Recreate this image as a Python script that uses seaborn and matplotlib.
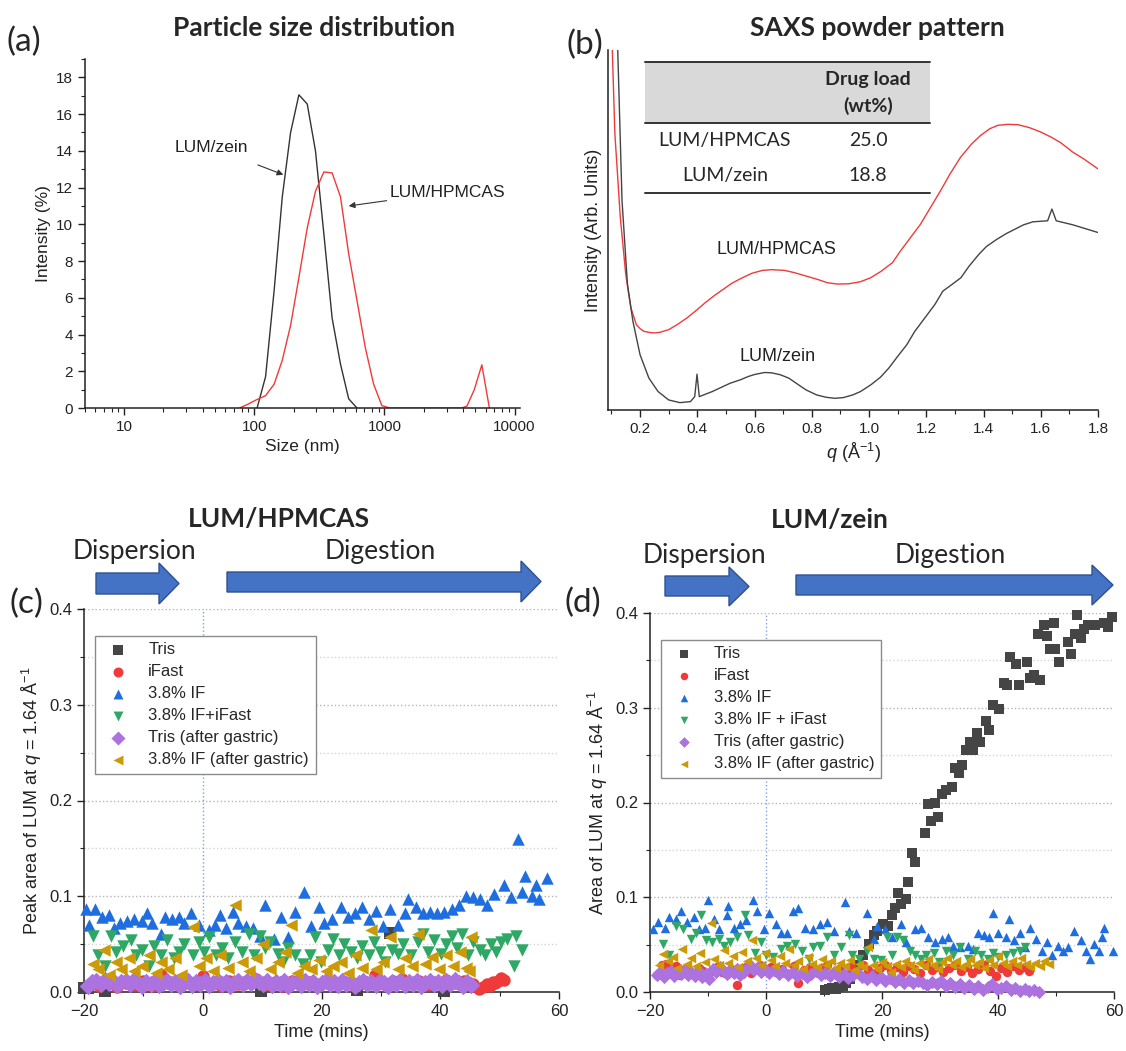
import numpy as np
import pandas as pd
import matplotlib
matplotlib.use("Agg")
import matplotlib.pyplot as plt
from matplotlib.patches import Polygon, Rectangle
from matplotlib.lines import Line2D
from matplotlib.ticker import MultipleLocator, FormatStrFormatter
import seaborn as sns

sns.set_style("ticks")
plt.rcParams['font.family'] = ['Liberation Sans', 'DejaVu Sans']
plt.rcParams['mathtext.fontset'] = 'custom'
plt.rcParams['mathtext.rm'] = 'Liberation Sans'
plt.rcParams['mathtext.it'] = 'Liberation Sans:italic'

TITLE_FONT = ['Lato', 'DejaVu Sans']

### (a) particle size distribution (DLS)
size_zein = [105, 122, 142, 164, 190, 220, 255, 295, 342, 396, 459, 531, 615]
int_zein = [0, 1.7, 6.4, 11.5, 15.0, 17.05, 16.55, 14.0, 9.5, 4.9, 2.4, 0.5, 0]
size_hpmcas = [77, 89, 104, 122, 142, 164, 190, 220, 255, 295, 342, 396, 459, 531,
               615, 712, 825, 955, 1100, 3900, 4300, 4900, 5600, 6400]
int_hpmcas = [0, 0.2, 0.45, 0.67, 1.3, 2.6, 4.5, 7.1, 9.8, 11.8, 12.85, 12.8, 11.5, 8.4,
              5.85, 3.3, 1.3, 0.13, 0, 0, 0.1, 1.0, 2.35, 0]

### (b) SAXS powder pattern (arb. units)
q_hpmcas = [0.095, 0.112, 0.131, 0.150, 0.168, 0.187, 0.20, 0.213, 0.23, 0.25, 0.27, 0.30, 0.33,
            0.364, 0.40, 0.427, 0.46, 0.49, 0.52, 0.553, 0.59, 0.628, 0.66, 0.704, 0.74, 0.78,
            0.82, 0.855, 0.89, 0.93, 0.97, 1.006, 1.04, 1.082, 1.11, 1.145, 1.18, 1.208, 1.25,
            1.283, 1.32, 1.359, 1.39, 1.422, 1.45, 1.485, 1.52, 1.561, 1.60, 1.636, 1.67, 1.712,
            1.75, 1.8]
saxs_hpmcas = [130, 82.5, 57.5, 40.5, 30.5, 25.5, 24.3, 23.5, 23.2, 23, 23.2, 24, 25.5, 27.5,
               30, 32, 34.2, 36, 37.8, 39.3, 40.8, 41.7, 41.9, 41.7, 41, 40, 39, 38, 37.6,
               37.7, 38.3, 39.5, 41.3, 44, 47.5, 51.5, 55.5, 59.5, 65.5, 70.5, 75.5, 79.5, 82,
               84, 85, 85.3, 85.2, 84.3, 83, 81.5, 79.8, 77, 75, 72]
q_zein = [0.115, 0.122, 0.137, 0.156, 0.175, 0.2, 0.231, 0.263, 0.30, 0.339, 0.376, 0.391, 0.399,
          0.407, 0.452, 0.515, 0.55, 0.578, 0.60, 0.635, 0.66, 0.691, 0.72, 0.754, 0.78, 0.817,
          0.85, 0.88, 0.91, 0.943, 0.97, 1.006, 1.04, 1.069, 1.10, 1.132, 1.16, 1.195, 1.23,
          1.258, 1.29, 1.321, 1.35, 1.384, 1.41, 1.447, 1.48, 1.51, 1.54, 1.573, 1.624, 1.639,
          1.654, 1.712, 1.8]
saxs_zein = [150, 107.5, 62.5, 37.5, 26.5, 16.5, 9.5, 5.5, 3, 2.2, 2.5, 4, 10.7, 4, 5.5, 8, 9,
             10, 10.6, 11.2, 11.1, 10.5, 9.5, 7.5, 6, 4.5, 3.8, 3.5, 3.7, 4.5, 5.5, 7.5, 9.8,
             12.5, 16, 19.5, 23.5, 27.5, 31.5, 35.5, 37.5, 39.5, 43, 46.5, 48.8, 51, 52.7, 54,
             55.3, 56.2, 56.5, 60, 56.5, 55.3, 53]
table_rows = ['LUM/HPMCAS', 'LUM/zein']
table_load = ['25.0', '18.8']

### (c),(d) peak area of LUM vs time: (time in mins, area)
series_names_c = ['Tris', 'iFast', '3.8% IF', '3.8% IF+iFast', 'Tris (after gastric)', '3.8% IF (after gastric)']
series_names_d = ['Tris', 'iFast', '3.8% IF', '3.8% IF + iFast', 'Tris (after gastric)', '3.8% IF (after gastric)']
series_markers = ['s', 'o', '^', 'v', 'D', '<']
series_colors = ['#454545', '#f03a3a', '#1f6ee0', '#2fa865', '#ab72e0', '#cc9a06']

c_tris = [(-20.0, 0.004), (-19.4, 0.004), (-16.5, 0.001), (9.8, 0.001), (26.0, 0.002),
          (31.6, 0.062), (40.7, 0.001)]
c_ifast = [(-19, 0.008), (-17.5, 0.006), (-16, 0.010), (-14.5, 0.005), (-13, 0.009), (-11.5, 0.007),
           (-10, 0.011), (-8.5, 0.006), (-7, 0.018), (-5.5, 0.009), (-4, 0.007), (-2.5, 0.010),
           (-1, 0.008), (0, 0.017), (1.5, 0.009), (3, 0.006), (4.5, 0.011), (6, 0.008), (7.5, 0.010),
           (9, 0.014), (10.5, 0.007), (12, 0.009), (13.5, 0.006), (15, 0.011), (16.5, 0.008),
           (18, 0.010), (19.5, 0.007), (21, 0.012), (22.5, 0.008), (24, 0.010), (25.5, 0.006),
           (27, 0.009), (29, 0.018), (30.5, 0.008), (32, 0.011), (33.5, 0.014), (35, 0.009),
           (36.5, 0.012), (38, 0.007), (39.5, 0.010), (41, 0.013), (42.5, 0.009), (44, 0.011),
           (45.5, 0.008), (46.5, 0.003), (47.2, 0.005), (47.8, 0.008), (48.3, 0.006), (48.8, 0.010),
           (49.3, 0.009), (49.8, 0.012), (50.3, 0.015), (50.7, 0.013)]
c_if = [(-19.7, 0.087), (-19.1, 0.070), (-18.2, 0.087), (-17.0, 0.078), (-15.8, 0.080),
        (-14.9, 0.067), (-14.0, 0.072), (-12.8, 0.074), (-11.5, 0.076), (-10.3, 0.074),
        (-9.4, 0.082), (-8.5, 0.072), (-7.0, 0.061), (-6.4, 0.078), (-5.2, 0.076),
        (-4.0, 0.078), (-3.1, 0.072), (-1.9, 0.082), (-0.7, 0.070), (1.1, 0.065),
        (2.0, 0.070), (2.9, 0.080), (3.9, 0.067), (5.1, 0.084), (6.0, 0.072),
        (7.2, 0.069), (8.4, 0.067), (9.6, 0.059), (10.5, 0.091), (12.0, 0.055),
        (13.2, 0.078), (14.4, 0.057), (15.6, 0.084), (17.1, 0.104), (18.3, 0.069),
        (19.6, 0.089), (20.5, 0.072), (21.7, 0.076), (23.2, 0.089), (24.4, 0.078),
        (25.6, 0.082), (26.8, 0.089), (28.0, 0.076), (29.2, 0.085), (30.4, 0.069),
        (31.6, 0.087), (32.8, 0.070), (34.0, 0.082), (34.6, 0.097), (35.9, 0.089),
        (37.1, 0.082), (38.3, 0.084), (39.5, 0.082), (40.7, 0.084), (41.9, 0.087),
        (43.1, 0.091), (44.3, 0.100), (45.5, 0.099), (46.7, 0.097), (47.9, 0.091),
        (49.1, 0.102), (50.7, 0.112), (51.9, 0.099), (53.1, 0.160), (53.7, 0.104),
        (54.3, 0.121), (55.5, 0.100), (56.1, 0.112), (56.7, 0.097), (57.9, 0.119)]
c_if_ifast = [(-18.5, 0.059), (-17.6, 0.039), (-16.4, 0.027), (-15.5, 0.059), (-14.6, 0.042),
              (-13.4, 0.048), (-12.1, 0.054), (-11.2, 0.039), (-10.3, 0.044), (-9.1, 0.027),
              (-8.2, 0.048), (-7.0, 0.039), (-6.1, 0.054), (-4.9, 0.035), (-4.0, 0.042),
              (-3.1, 0.050), (-1.6, 0.039), (-0.7, 0.052), (0.2, 0.042), (1.1, 0.057),
              (2.3, 0.039), (3.2, 0.046), (4.2, 0.035), (5.4, 0.052), (6.6, 0.042),
              (7.8, 0.061), (8.7, 0.039), (9.6, 0.059), (10.5, 0.046), (11.4, 0.052),
              (12.6, 0.040), (13.5, 0.031), (14.4, 0.046), (15.6, 0.039), (16.8, 0.029),
              (18.0, 0.039), (18.9, 0.057), (19.9, 0.031), (21.1, 0.044), (22.0, 0.055),
              (22.9, 0.039), (23.8, 0.050), (25.0, 0.042), (25.9, 0.035), (26.8, 0.048),
              (28.0, 0.039), (28.9, 0.052), (29.8, 0.042), (30.7, 0.031), (31.9, 0.044),
              (32.8, 0.040), (33.7, 0.050), (35.0, 0.039), (36.2, 0.052), (37.1, 0.061),
              (38.0, 0.042), (38.9, 0.054), (40.1, 0.040), (41.0, 0.050), (41.9, 0.059),
              (42.8, 0.046), (43.7, 0.061), (44.6, 0.039), (45.5, 0.052), (46.7, 0.044),
              (47.6, 0.039), (48.5, 0.050), (49.4, 0.042), (50.3, 0.052), (51.3, 0.055),
              (52.5, 0.027), (52.8, 0.059), (53.7, 0.044)]
c_tris_gastric = [(-19.3, 0.006), (-18.6, 0.010), (-17.9, 0.012), (-17.2, 0.008), (-16.5, 0.013),
                  (-15.8, 0.009), (-15.1, 0.011), (-14.4, 0.007), (-13.7, 0.010), (-13.0, 0.012),
                  (-12.3, 0.008), (-11.6, 0.013), (-10.9, 0.009), (-10.2, 0.006), (-9.5, 0.010),
                  (-8.8, 0.008), (-8.1, 0.011), (-7.4, 0.007), (-6.7, 0.009), (-6.0, 0.012),
                  (-5.3, 0.008), (-4.6, 0.010), (-3.9, 0.006), (-3.2, 0.009), (-2.5, 0.011),
                  (-1.8, 0.007), (-1.1, 0.010), (-0.4, 0.008), (0.4, 0.011), (1.1, 0.007),
                  (1.8, 0.009), (2.5, 0.012), (3.2, 0.008), (3.9, 0.010), (4.6, 0.006),
                  (5.3, 0.009), (6.0, 0.011), (6.7, 0.008), (7.4, 0.012), (8.1, 0.009),
                  (8.8, 0.013), (9.5, 0.010), (10.2, 0.008), (10.9, 0.011), (11.6, 0.007),
                  (12.3, 0.010), (13.0, 0.008), (13.7, 0.011), (14.4, 0.006), (15.1, 0.009),
                  (15.8, 0.010), (16.5, 0.007), (17.2, 0.011), (17.9, 0.008), (18.6, 0.010),
                  (19.3, 0.006), (20.0, 0.009), (20.7, 0.011), (21.4, 0.008), (22.1, 0.010),
                  (22.8, 0.007), (23.5, 0.011), (24.2, 0.008), (24.9, 0.010), (25.6, 0.006),
                  (26.3, 0.009), (27.0, 0.012), (27.7, 0.008), (28.4, 0.010), (29.1, 0.007),
                  (29.8, 0.011), (30.5, 0.009), (31.2, 0.006), (31.9, 0.010), (32.6, 0.008),
                  (33.3, 0.011), (34.0, 0.007), (34.7, 0.010), (35.4, 0.008), (36.1, 0.011),
                  (36.8, 0.006), (37.5, 0.009), (38.2, 0.012), (38.9, 0.008), (39.6, 0.010),
                  (40.3, 0.007), (41.0, 0.011), (41.7, 0.008), (42.4, 0.013), (43.1, 0.009),
                  (43.8, 0.006), (44.5, 0.010), (45.2, 0.007)]
c_if_gastric = [(-18.5, 0.029), (-17.6, 0.024), (-16.7, 0.044), (-15.8, 0.018), (-14.6, 0.031),
                (-13.7, 0.024), (-12.5, 0.035), (-11.5, 0.022), (-10.3, 0.027), (-9.1, 0.039),
                (-7.9, 0.020), (-7.0, 0.031), (-5.8, 0.024), (-4.6, 0.035), (-3.7, 0.018),
                (-1.6, 0.068), (-0.7, 0.027), (0.5, 0.035), (1.7, 0.022), (2.9, 0.039),
                (4.2, 0.025), (5.5, 0.091), (6.6, 0.031), (7.8, 0.022), (9.0, 0.035),
                (10.2, 0.050), (11.4, 0.024), (12.6, 0.031), (13.8, 0.042), (14.9, 0.070),
                (15.9, 0.020), (17.1, 0.027), (18.3, 0.024), (19.6, 0.033), (20.8, 0.022),
                (22.0, 0.027), (23.2, 0.031), (24.4, 0.020), (25.6, 0.039), (26.8, 0.025),
                (28.3, 0.065), (29.2, 0.024), (30.4, 0.031), (31.6, 0.057), (32.8, 0.024),
                (34.0, 0.035), (35.3, 0.027), (36.2, 0.061), (37.4, 0.029), (38.6, 0.037),
                (39.8, 0.024), (41.0, 0.039), (42.2, 0.027), (43.4, 0.042), (44.3, 0.025),
                (44.9, 0.022), (45.2, 0.057)]

d_tris = [(10.2, 0.002), (10.8, 0.003), (11.4, 0.004), (12.0, 0.003), (12.6, 0.005), (13.2, 0.006),
          (13.8, 0.009), (14.5, 0.014), (15.2, 0.021), (15.9, 0.029), (16.7, 0.039), (17.7, 0.051),
          (18.6, 0.060), (19.2, 0.064), (20.2, 0.072), (21.1, 0.070), (21.7, 0.081), (22.3, 0.089),
          (22.8, 0.104), (23.3, 0.093), (24.1, 0.098), (24.5, 0.116), (25.1, 0.147), (25.7, 0.137),
          (27.4, 0.168), (28.0, 0.198), (28.5, 0.180), (29.2, 0.199), (29.7, 0.185), (30.4, 0.209),
          (31.0, 0.213), (32.0, 0.216), (32.6, 0.236), (33.2, 0.231), (33.8, 0.240), (34.4, 0.255),
          (35.1, 0.264), (35.7, 0.255), (36.3, 0.273), (36.9, 0.264), (37.9, 0.286), (38.5, 0.277),
          (39.1, 0.303), (40.2, 0.299), (41.0, 0.326), (41.6, 0.324), (42.1, 0.354), (43.1, 0.346),
          (43.7, 0.324), (45.0, 0.348), (45.6, 0.331), (46.2, 0.335), (46.9, 0.378), (47.2, 0.329),
          (47.9, 0.387), (48.4, 0.376), (49.0, 0.362), (49.6, 0.389), (49.9, 0.362), (50.6, 0.348),
          (52.0, 0.369), (52.6, 0.357), (53.2, 0.378), (53.7, 0.398), (54.3, 0.374), (54.9, 0.383),
          (55.5, 0.387), (56.8, 0.387), (58.3, 0.389), (58.9, 0.385), (59.6, 0.396)]
d_ifast = [(-18.8, 0.018), (-18.0, 0.029), (-17.2, 0.030), (-16.4, 0.022), (-15.6, 0.027),
           (-14.8, 0.018), (-14.0, 0.024), (-13.2, 0.021), (-12.4, 0.019), (-11.6, 0.025),
           (-10.8, 0.022), (-10.0, 0.017), (-9.2, 0.023), (-8.4, 0.026), (-7.6, 0.021),
           (-6.8, 0.019), (-6.0, 0.024), (-5.0, 0.007), (-4.2, 0.022), (-3.4, 0.026),
           (-2.6, 0.020), (-1.8, 0.024), (-1.0, 0.028), (-0.2, 0.022), (0.8, 0.026),
           (1.8, 0.021), (2.8, 0.024), (3.8, 0.019), (4.8, 0.027), (5.6, 0.009),
           (6.6, 0.023), (7.6, 0.026), (8.6, 0.021), (9.6, 0.025), (10.6, 0.028),
           (11.6, 0.020), (12.6, 0.024), (13.6, 0.019), (14.6, 0.026), (15.6, 0.022),
           (16.7, 0.028), (17.6, 0.023), (18.6, 0.020), (19.6, 0.025), (20.6, 0.029),
           (21.6, 0.022), (22.6, 0.026), (23.6, 0.021), (24.6, 0.027), (25.6, 0.024),
           (26.6, 0.020), (27.6, 0.028), (28.6, 0.023), (29.6, 0.026), (30.6, 0.021),
           (31.6, 0.025), (32.6, 0.029), (33.6, 0.022), (34.6, 0.026), (35.6, 0.020),
           (36.6, 0.024), (37.6, 0.028), (38.6, 0.022), (39.6, 0.017), (40.6, 0.025),
           (41.6, 0.021), (42.6, 0.027), (43.6, 0.023), (44.6, 0.026), (45.4, 0.022)]
d_if = [(-19.4, 0.066), (-18.6, 0.074), (-17.4, 0.068), (-16.8, 0.079), (-15.5, 0.077),
        (-14.6, 0.085), (-13.7, 0.074), (-12.4, 0.079), (-11.5, 0.066), (-10.6, 0.068),
        (-10.0, 0.097), (-9.0, 0.077), (-8.1, 0.066), (-6.8, 0.081), (-6.5, 0.091),
        (-5.6, 0.068), (-4.4, 0.072), (-3.4, 0.076), (-2.2, 0.097), (-1.6, 0.085),
        (-0.3, 0.066), (0.6, 0.083), (1.8, 0.072), (2.5, 0.062), (3.7, 0.062),
        (4.6, 0.085), (5.6, 0.089), (6.8, 0.068), (8.1, 0.066), (9.3, 0.072),
        (10.5, 0.074), (11.8, 0.064), (13.6, 0.095), (14.3, 0.064), (15.5, 0.062),
        (17.4, 0.083), (18.6, 0.056), (19.2, 0.070), (20.5, 0.066), (21.7, 0.058),
        (23.3, 0.072), (24.2, 0.053), (25.7, 0.066), (26.7, 0.068), (28.0, 0.058),
        (29.2, 0.053), (30.4, 0.056), (31.3, 0.058), (32.3, 0.049), (33.5, 0.047),
        (34.8, 0.049), (35.7, 0.045), (36.6, 0.062), (37.5, 0.060), (38.5, 0.058),
        (39.1, 0.083), (40.0, 0.062), (41.3, 0.058), (41.9, 0.077), (42.8, 0.055),
        (43.8, 0.062), (44.7, 0.047), (45.6, 0.068), (46.5, 0.056), (47.5, 0.043),
        (48.4, 0.053), (49.3, 0.039), (50.3, 0.049), (51.2, 0.043), (52.1, 0.047),
        (53.1, 0.064), (54.3, 0.055), (55.2, 0.043), (55.9, 0.035), (56.5, 0.051),
        (57.4, 0.043), (58.0, 0.058), (58.3, 0.068), (59.9, 0.043)]
d_if_ifast = [(-17.8, 0.051), (-16.8, 0.039), (-15.5, 0.070), (-14.3, 0.066), (-13.0, 0.056),
              (-12.1, 0.062), (-11.2, 0.081), (-10.3, 0.055), (-9.3, 0.053), (-8.1, 0.056),
              (-7.2, 0.049), (-6.2, 0.053), (-5.0, 0.058), (-3.7, 0.081), (-3.1, 0.060),
              (-1.9, 0.041), (-0.9, 0.053), (0.0, 0.039), (1.2, 0.037), (2.5, 0.045),
              (3.7, 0.049), (5.0, 0.051), (6.2, 0.043), (7.4, 0.035), (8.1, 0.047),
              (9.3, 0.049), (10.5, 0.058), (11.8, 0.039), (13.0, 0.047), (14.3, 0.060),
              (14.9, 0.039), (16.1, 0.035), (17.4, 0.043), (18.6, 0.035), (19.9, 0.034),
              (20.8, 0.058), (21.7, 0.039), (22.6, 0.058), (23.6, 0.055), (24.8, 0.043),
              (25.7, 0.039), (26.7, 0.035), (27.6, 0.039), (28.9, 0.041), (29.8, 0.032),
              (31.0, 0.043), (32.3, 0.039), (33.5, 0.047), (34.8, 0.035), (36.0, 0.043),
              (37.0, 0.039), (38.2, 0.035), (39.1, 0.041), (40.0, 0.037), (41.3, 0.039),
              (42.5, 0.041), (43.8, 0.043), (44.7, 0.047)]
d_tris_gastric = [(-18.8, 0.018), (-18.2, 0.021), (-17.6, 0.016), (-17.0, 0.020), (-16.4, 0.022),
                  (-15.8, 0.017), (-15.2, 0.021), (-14.6, 0.019), (-14.0, 0.023), (-13.4, 0.018),
                  (-12.8, 0.020), (-12.2, 0.017), (-11.6, 0.022), (-11.0, 0.016), (-10.4, 0.019),
                  (-9.8, 0.014), (-9.2, 0.024), (-8.6, 0.021), (-8.0, 0.026), (-7.4, 0.022),
                  (-6.8, 0.019), (-6.2, 0.023), (-5.6, 0.020), (-5.0, 0.024), (-4.4, 0.018),
                  (-3.8, 0.021), (-3.2, 0.025), (-2.6, 0.027), (-2.0, 0.023), (-1.4, 0.026),
                  (-0.8, 0.021), (-0.2, 0.024), (0.6, 0.020), (1.4, 0.023), (2.2, 0.019),
                  (3.0, 0.022), (3.8, 0.018), (4.6, 0.021), (5.4, 0.017), (6.2, 0.020),
                  (7.0, 0.016), (7.8, 0.019), (8.6, 0.022), (9.4, 0.018), (10.2, 0.020),
                  (11.0, 0.017), (11.8, 0.021), (12.6, 0.016), (13.4, 0.019), (14.2, 0.015),
                  (15.0, 0.018), (15.8, 0.020), (16.6, 0.016), (17.4, 0.014), (18.2, 0.017),
                  (19.0, 0.013), (19.8, 0.016), (20.6, 0.012), (21.4, 0.015), (22.2, 0.011),
                  (23.0, 0.014), (23.8, 0.010), (24.6, 0.013), (25.4, 0.009), (26.2, 0.012),
                  (27.0, 0.010), (27.8, 0.007), (28.6, 0.011), (29.4, 0.008), (30.2, 0.012),
                  (31.0, 0.006), (31.8, 0.009), (32.6, 0.005), (33.4, 0.008), (34.2, 0.004),
                  (35.0, 0.007), (35.8, 0.003), (36.6, 0.006), (37.4, 0.002), (38.2, 0.005),
                  (39.0, 0.008), (39.8, 0.003), (40.6, 0.004), (41.4, 0.006), (42.2, 0.002),
                  (43.0, 0.004), (43.8, 0.001), (44.6, 0.003), (45.4, 0.001), (46.2, 0.002),
                  (47.0, 0.000)]
d_if_gastric = [(-18.5, 0.028), (-17.7, 0.040), (-16.9, 0.033), (-16.1, 0.037), (-15.3, 0.025),
                (-14.5, 0.045), (-13.7, 0.030), (-12.9, 0.036), (-12.1, 0.027), (-11.3, 0.041),
                (-10.5, 0.032), (-9.5, 0.073), (-8.9, 0.035), (-8.1, 0.029), (-7.3, 0.044),
                (-6.5, 0.031), (-5.7, 0.038), (-4.9, 0.026), (-4.1, 0.042), (-3.3, 0.033),
                (-2.5, 0.055), (-1.7, 0.036), (-0.9, 0.029), (-0.1, 0.041), (0.8, 0.034),
                (1.6, 0.027), (2.4, 0.038), (3.2, 0.031), (4.0, 0.045), (4.8, 0.028),
                (5.6, 0.033), (6.4, 0.024), (7.2, 0.037), (8.0, 0.030), (8.8, 0.026),
                (9.6, 0.035), (10.4, 0.029), (11.2, 0.033), (12.0, 0.025), (12.8, 0.031),
                (13.6, 0.027), (14.4, 0.034), (15.2, 0.023), (16.0, 0.030), (16.8, 0.026),
                (17.6, 0.048), (18.4, 0.029), (19.2, 0.024), (20.0, 0.032), (20.8, 0.027),
                (21.6, 0.021), (22.4, 0.030), (23.2, 0.026), (24.0, 0.033), (24.8, 0.028),
                (25.6, 0.023), (26.4, 0.031), (27.2, 0.027), (28.0, 0.035), (28.8, 0.029),
                (29.6, 0.024), (30.4, 0.032), (31.2, 0.036), (32.0, 0.028), (32.8, 0.033),
                (33.6, 0.026), (34.4, 0.030), (35.2, 0.035), (36.0, 0.028), (36.8, 0.032),
                (37.6, 0.025), (38.4, 0.034), (39.2, 0.029), (40.0, 0.038), (40.8, 0.031),
                (41.6, 0.027), (42.4, 0.033), (43.2, 0.029), (44.0, 0.036), (44.8, 0.030),
                (45.6, 0.026), (46.4, 0.031), (47.2, 0.027), (48.0, 0.033), (48.8, 0.030)]

series_c = [c_tris, c_ifast, c_if, c_if_ifast, c_tris_gastric, c_if_gastric]
series_d = [d_tris, d_ifast, d_if, d_if_ifast, d_tris_gastric, d_if_gastric]

W, H = 1126, 1051
fig = plt.figure(figsize=(W / 100, H / 100), dpi=100)


def px_rect(x0, y0, x1, y1):
    # axes rectangle from pixel box (top-left origin)
    return [x0 / W, 1 - y1 / H, (x1 - x0) / W, (y1 - y0) / H]


def fig_text(x, y, s, **kw):
    fig.text(x / W, 1 - y / H, s, ha='center', va='center', **kw)


def style_axes(ax, labelsize):
    sns.despine(ax=ax)
    for sp in ['left', 'bottom']:
        ax.spines[sp].set_color('#222222')
        ax.spines[sp].set_linewidth(1.1)
    ax.tick_params(which='major', direction='out', length=5, width=1, color='#222222',
                   labelsize=labelsize, labelcolor='#222222')
    ax.tick_params(which='minor', direction='out', length=3, width=0.8, color='#222222')


def block_arrow(x0, x_head, x_tip, y_body0, y_body1, y_head0, y_head1):
    ymid = (y_head0 + y_head1) / 2
    pts = [(x0, y_body0), (x_head, y_body0), (x_head, y_head0), (x_tip, ymid),
           (x_head, y_head1), (x_head, y_body1), (x0, y_body1)]
    pts = [(x / 100, (H - y) / 100) for x, y in pts]
    fig.patches.append(Polygon(pts, closed=True, transform=fig.dpi_scale_trans,
                               facecolor='#4472C4', edgecolor='#2F528F', lw=1))


### (a)
ax_a = fig.add_axes(px_rect(85, 59, 520, 408))
ax_a.set_xscale('log')
sns.lineplot(x=size_zein, y=int_zein, color='#333333', lw=1, ax=ax_a)
sns.lineplot(x=size_hpmcas, y=int_hpmcas, color='#f03a3a', lw=1, ax=ax_a)
ax_a.set_xlim(5, 11000)
ax_a.set_ylim(0, 19)
ax_a.yaxis.set_major_locator(MultipleLocator(2))
ax_a.yaxis.set_minor_locator(MultipleLocator(1))
ax_a.set_xticks([10, 100, 1000, 10000])
ax_a.set_xticklabels(['10', '100', '1000', '10000'])
style_axes(ax_a, 11)
ax_a.set_xlabel('Size (nm)', fontsize=12.5, color='#222222')
ax_a.set_ylabel('Intensity (%)', fontsize=12.5, color='#222222')
ax_a.annotate('LUM/zein', xy=(167, 12.7), xytext=(47, 14.2), fontsize=12.5, ha='center',
              va='center', color='#222222',
              arrowprops=dict(arrowstyle='-|>', color='#333333', lw=0.8, mutation_scale=9,
                              shrinkA=14, shrinkB=0))
ax_a.annotate('LUM/HPMCAS', xy=(531, 11.0), xytext=(3060, 11.75), fontsize=12.5, ha='center',
              va='center', color='#222222',
              arrowprops=dict(arrowstyle='-|>', color='#333333', lw=0.8, mutation_scale=9,
                              shrinkA=34, shrinkB=0))

### (b)
ax_b = fig.add_axes(px_rect(608, 50, 1098, 410))
sns.lineplot(x=q_hpmcas, y=saxs_hpmcas, color='#f03a3a', lw=1, ax=ax_b, sort=False)
sns.lineplot(x=q_zein, y=saxs_zein, color='#444444', lw=1, ax=ax_b, sort=False)
ax_b.set_xlim(0.088, 1.8)
ax_b.set_ylim(0, 107.5)
ax_b.set_yticks([])
ax_b.set_xticks([0.2, 0.4, 0.6, 0.8, 1.0, 1.2, 1.4, 1.6, 1.8])
ax_b.xaxis.set_major_formatter(FormatStrFormatter('%.1f'))
ax_b.xaxis.set_minor_locator(MultipleLocator(0.1))
style_axes(ax_b, 11)
ax_b.set_xlabel(r'$\it{q}$ (Å$^{-1}$)', fontsize=13, color='#222222')
ax_b.set_ylabel('Intensity (Arb. Units)', fontsize=13, color='#222222')
ax_b.text(0.676, 48, 'LUM/HPMCAS', fontsize=13, ha='center', va='center', color='#222222')
ax_b.text(0.679, 16, 'LUM/zein', fontsize=13, ha='center', va='center', color='#222222')
# drug load table
ax_b.add_patch(Rectangle((0.0755, 0.798), 0.582, 0.17, transform=ax_b.transAxes,
                         facecolor='#d9d9d9', edgecolor='none', zorder=1))
for yy in [0.9675, 0.798, 0.6036]:
    ax_b.add_line(Line2D([0.0755, 0.6575], [yy, yy], transform=ax_b.transAxes,
                         color='#333333', lw=1.4, zorder=2))
ax_b.text(0.5306, 0.917, 'Drug load', transform=ax_b.transAxes, ha='center', va='center',
          fontsize=14, fontweight='bold', family=TITLE_FONT, zorder=3)
ax_b.text(0.5306, 0.844, '(wt%)', transform=ax_b.transAxes, ha='center', va='center',
          fontsize=14, fontweight='bold', family=TITLE_FONT, zorder=3)
for row, load, yy in zip(table_rows, table_load, [0.748, 0.651]):
    ax_b.text(0.2386, yy, row, transform=ax_b.transAxes, ha='center', va='center',
              fontsize=14, family=TITLE_FONT)
    ax_b.text(0.5306, yy, load, transform=ax_b.transAxes, ha='center', va='center',
              fontsize=14, family=TITLE_FONT)


### (c) and (d)
def release_panel(ax, series, names, size, ylabel):
    for pts, name, mk, col in zip(series, names, series_markers, series_colors):
        df = pd.DataFrame(pts, columns=['time', 'area'])
        sns.scatterplot(data=df, x='time', y='area', marker=mk, color=col, s=size,
                        linewidth=0, label=name, ax=ax, zorder=3, clip_on=False)
    ax.set_xlim(-20, 60)
    ax.set_ylim(0, 0.4)
    ax.xaxis.set_major_locator(MultipleLocator(20))
    ax.xaxis.set_minor_locator(MultipleLocator(10))
    ax.yaxis.set_major_locator(MultipleLocator(0.1))
    ax.yaxis.set_minor_locator(MultipleLocator(0.05))
    ax.yaxis.set_major_formatter(FormatStrFormatter('%.1f'))
    ax.grid(axis='y', which='major', ls=':', color='#b5b5b5', lw=1)
    ax.grid(axis='y', which='minor', ls=':', color='#d5d5d5', lw=1)
    ax.axvline(0, color='#7aa2e3', ls=':', lw=1, zorder=1)
    ax.set_axisbelow(True)
    style_axes(ax, 12)
    ax.set_xlabel('Time (mins)', fontsize=13, color='#222222')
    ax.set_ylabel(ylabel, fontsize=13, color='#222222')
    leg = ax.legend(loc='upper left', bbox_to_anchor=(0.023, 0.93), frameon=True,
                    fancybox=False, edgecolor='#8a8a8a', framealpha=1, fontsize=12,
                    markerscale=0.8, handletextpad=0.8, borderpad=0.4, labelspacing=0.42,
                    borderaxespad=0)
    leg.get_frame().set_linewidth(1)
    leg.set_zorder(5)


ax_c = fig.add_axes(px_rect(84, 609, 559, 992))
release_panel(ax_c, series_c, series_names_c, 80,
              r'Peak area of LUM at $\it{q}$ = 1.64 Å$^{-1}$')
ax_d = fig.add_axes(px_rect(650, 613, 1114, 992))
release_panel(ax_d, series_d, series_names_d, 46,
              r'Area of LUM at $\it{q}$ = 1.64 Å$^{-1}$')

### figure-level texts and arrows
fig_text(24, 42, '(a)', fontsize=24, family=TITLE_FONT)
fig_text(585, 45, '(b)', fontsize=24, family=TITLE_FONT)
fig_text(26, 604, '(c)', fontsize=24, family=TITLE_FONT)
fig_text(583, 603, '(d)', fontsize=24, family=TITLE_FONT)
fig_text(314, 28, 'Particle size distribution', fontsize=19, fontweight='bold', family=TITLE_FONT)
fig_text(877, 28, 'SAXS powder pattern', fontsize=19, fontweight='bold', family=TITLE_FONT)
fig_text(279, 519, 'LUM/HPMCAS', fontsize=19, fontweight='bold', family=TITLE_FONT)
fig_text(830, 520, 'LUM/zein', fontsize=19, fontweight='bold', family=TITLE_FONT)
fig_text(134, 552, 'Dispersion', fontsize=19, family=TITLE_FONT)
fig_text(380, 552, 'Digestion', fontsize=19, family=TITLE_FONT)
fig_text(704, 556, 'Dispersion', fontsize=19, family=TITLE_FONT)
fig_text(950, 556, 'Digestion', fontsize=19, family=TITLE_FONT)
block_arrow(96, 159, 179, 573, 594, 563, 604)
block_arrow(227, 521, 541, 572, 592, 561, 602)
block_arrow(665, 729, 749, 576, 596, 567, 606)
block_arrow(796, 1092, 1113, 575, 595, 565, 605)

fig.savefig('out.png', dpi=100)
